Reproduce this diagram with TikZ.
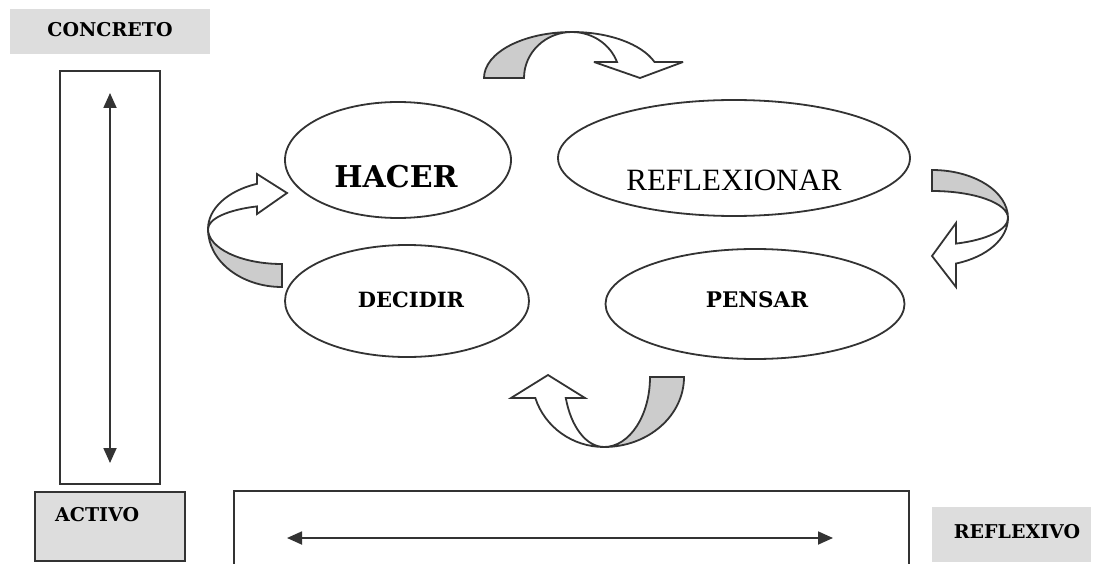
\documentclass[tikz,border=0pt]{standalone}
\usepackage{fontspec}
\usetikzlibrary{arrows.meta,shapes.geometric}
% heavy serif for the stage and axis labels, Times-style regular for REFLEXIONAR
\newfontfamily\heavyserif{DejaVu Serif}[BoldFont={DejaVu Serif Bold}]
\newfontfamily\timesserif{Liberation Serif}
\newcommand\bookbold{\heavyserif\bfseries}
\definecolor{ink}{HTML}{333333}
\definecolor{bandgray}{HTML}{CCCCCC}
\definecolor{boxgray}{HTML}{DDDDDD}
\begin{document}
\begin{tikzpicture}[x=1pt,y=1pt,
  frame/.style={draw=ink, line width=1.8pt, inner sep=0pt, outer sep=0pt},
  oval/.style={ellipse, draw=ink, line width=1.8pt, inner sep=0pt, outer sep=0pt},
  back/.style={fill=bandgray, draw=ink, line width=1.8pt, miter limit=4},
  front/.style={fill=white, draw=ink, line width=1.8pt, miter limit=4},
  lbl/.style={anchor=base, inner sep=0pt, text=black},
  dbl/.style={draw=ink, line width=1.8pt,
    {Triangle[length=15pt,width=13pt]}-{Triangle[length=15pt,width=13pt]}}]
\useasboundingbox (0,0) rectangle (1094,-564);

% ---- left column: CONCRETO / ACTIVO ----
\node[fill=boxgray, minimum width=200pt, minimum height=45pt, inner sep=0pt, anchor=north west] (concretobox) at (10,-9) {};
\node[lbl, font={\fontsize{19}{23}\bookbold}] (concreto) at (110,-37) {CONCRETO};

\node[frame, minimum width=100pt, minimum height=413pt, anchor=north west] (column) at (60,-71) {};
\coordinate (vtop) at (110,-93);
\coordinate (vbot) at (110,-463);
\draw[dbl] (vtop) -- (vbot);

\node[frame, fill=boxgray, minimum width=150pt, minimum height=69pt, anchor=north west] (activobox) at (35,-492) {};
\node[lbl, anchor=base west, font={\fontsize{19}{23}\bookbold}] (activo) at (55,-521) {ACTIVO};

% ---- bottom band: REFLEXIVO ----
\coordinate (bl) at (234,-566);
\coordinate (tl) at (234,-491);
\coordinate (tr) at (909,-491);
\coordinate (br) at (909,-566);
\draw[draw=ink, line width=1.8pt] (bl) -- (tl) -- (tr) -- (br);
\coordinate (hl) at (287,-538);
\coordinate (hr) at (833,-538);
\draw[dbl] (hl) -- (hr);

\node[fill=boxgray, minimum width=159pt, minimum height=55pt, inner sep=0pt, anchor=north west] (reflexivobox) at (932,-507) {};
\node[lbl, font={\fontsize{19}{23}\bookbold}] (reflexivo) at (1017,-538) {REFLEXIVO};

% ---- the four stages ----
\node[oval, minimum width=226pt, minimum height=116pt] (hacer) at (398,-160) {};
\node[lbl, font={\fontsize{30}{36}\bookbold}] (hacertxt) at (396,-187) {HACER};

\node[oval, minimum width=352pt, minimum height=116pt] (reflexionar) at (734,-158) {};
\node[lbl, font={\fontsize{31}{36}\timesserif}] (reflexionartxt) at (734,-190) {REFLEXIONAR};

\node[oval, minimum width=244pt, minimum height=112pt] (decidir) at (407,-301) {};
\node[lbl, font={\fontsize{21}{25}\bookbold}] (decidirtxt) at (411,-307) {DECIDIR};

\node[oval, minimum width=299pt, minimum height=110pt] (pensar) at (755,-304) {};
\node[lbl, font={\fontsize{21.5}{25}\bookbold}] (pensartxt) at (757,-307) {PENSAR};

% ---- curved block arrows (grey back half, white front half) ----
% HACER -> REFLEXIONAR
\path[back] (484,-78) arc[start angle=180, end angle=90, x radius=88, y radius=46]
  arc[start angle=90, end angle=180, x radius=48, y radius=46] -- cycle;
\path[front] (572,-32) arc[start angle=90, end angle=20.4, x radius=88, y radius=46]
  -- (683,-62) -- (640,-78) -- (594,-62) -- (617,-62)
  arc[start angle=20.4, end angle=90, x radius=48, y radius=46] -- cycle;

% REFLEXIONAR -> PENSAR
\path[back] (932,-170) arc[start angle=90, end angle=0, x radius=76, y radius=48]
  arc[start angle=0, end angle=90, x radius=76, y radius=27] -- cycle;
\path[front] (1008,-218) arc[start angle=0, end angle=-71.6, x radius=76, y radius=48]
  -- (956,-287) -- (932,-256) -- (956,-223) -- (956,-243.6)
  arc[start angle=-71.6, end angle=0, x radius=76, y radius=27] -- cycle;

% PENSAR -> DECIDIR
\path[back] (684,-377) arc[start angle=0, end angle=-90, x radius=80, y radius=70]
  arc[start angle=-90, end angle=0, x radius=46, y radius=70] -- cycle;
\path[front] (604,-447) arc[start angle=-90, end angle=-162.5, x radius=72, y radius=70]
  -- (511,-398) -- (548,-375) -- (585,-398) -- (565.8,-398)
  arc[start angle=-162.5, end angle=-90, x radius=40, y radius=70] -- cycle;

% DECIDIR -> HACER
\path[back] (282,-287) arc[start angle=270, end angle=180, x radius=74, y radius=58]
  arc[start angle=180, end angle=270, x radius=74, y radius=35] -- cycle;
\path[front] (208,-229) arc[start angle=180, end angle=109.8, x radius=74, y radius=48]
  -- (257,-174) -- (287,-193) -- (257,-214) -- (257,-206.4)
  arc[start angle=109.8, end angle=180, x radius=74, y radius=24] -- cycle;
\end{tikzpicture}
\end{document}
